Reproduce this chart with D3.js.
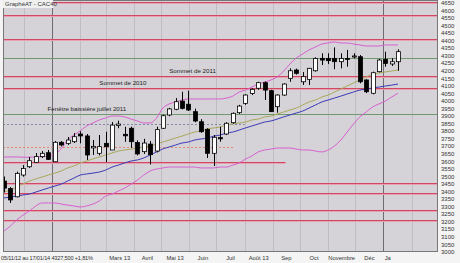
<!DOCTYPE html>
<html><head><meta charset="utf-8">
<script src="https://cdn.jsdelivr.net/npm/d3@7"></script>
<style>
html,body{margin:0;padding:0;background:#fff;overflow:hidden}
text{font-family:"Liberation Sans",Arial,sans-serif}
</style></head>
<body><svg id="c" width="460" height="263"></svg>
<script>
// ---- DATA ----
const firstWeek = "2012-11-09"; // weekly candles (Friday), 63 weeks
const open  = [3470,3420,3366,3510,3565,3594,3632,3658,3598,3727,3720,3731,3782,3769,3690,3654,3720,3676,3838,3780,3820,3725,3665,3715,3669,3820,3908,3946,4000,3979,3930,3863,3813,3654,3758,3782,3857,3923,3985,4050,4085,4122,4069,3963,4040,4151,4206,4128,4144,4201,4283,4283,4283,4261,4283,4295,4294,4140,4052,4195,4277,4246,4261];
const high  = [3500,3430,3532,3576,3630,3656,3669,3676,3735,3735,3762,3788,3800,3782,3742,3775,3797,3861,3870,3830,3830,3740,3750,3735,3830,3910,3955,4020,4062,4069,3950,3880,3820,3775,3830,3860,3925,3975,4045,4085,4128,4130,4075,4045,4118,4217,4215,4193,4220,4290,4317,4317,4356,4317,4339,4317,4305,4145,4195,4280,4327,4285,4343];
const low   = [3395,3325,3362,3499,3557,3590,3623,3610,3596,3700,3709,3722,3720,3610,3643,3640,3596,3676,3820,3730,3690,3640,3650,3580,3660,3815,3900,3940,3945,3935,3860,3790,3623,3570,3731,3775,3850,3915,3975,4040,4075,4007,3930,3923,4035,4128,4175,4107,4107,4195,4239,4245,4211,4217,4228,4283,4118,4053,4045,4190,4228,4233,4201];
const close = [3423,3345,3521,3554,3605,3632,3654,3614,3727,3709,3742,3764,3769,3643,3700,3698,3698,3841,3848,3770,3731,3650,3722,3645,3811,3903,3948,3996,3952,3941,3868,3797,3654,3760,3750,3853,3919,3967,4040,4078,4122,4073,3930,4040,4113,4201,4184,4162,4217,4283,4272,4268,4261,4283,4277,4299,4128,4062,4188,4272,4250,4261,4327.5];
const bbUpper = [3629,3630,3630,3628,3628,3630,3632,3635,3650,3683,3742,3775,3802,3835,3855,3875,3888,3901,3901,3895,3881,3868,3855,3855,3888,3954,3981,3994,4007,4014,4014,4014,4014,4014,4014,4020,4033,4060,4073,4093,4113,4126,4140,4160,4199,4246,4286,4312,4339,4358,4378,4385,4392,4385,4385,4378,4372,4365,4365,4365,4372,4372,4372];
const bbLower = [3139,3172,3212,3245,3272,3305,3325,3325,3325,3318,3311,3305,3298,3305,3318,3338,3371,3384,3404,3424,3450,3477,3510,3537,3550,3557,3563,3563,3563,3563,3563,3557,3557,3557,3563,3563,3576,3590,3616,3636,3663,3676,3682,3689,3689,3689,3682,3676,3676,3669,3663,3676,3702,3742,3795,3848,3895,3928,3961,3981,4000,4027,4053];
const ma20 = [3398,3411,3431,3450,3470,3484,3497,3510,3523,3537,3557,3570,3590,3603,3617,3629,3643,3656,3669,3676,3682,3689,3696,3702,3716,3729,3742,3755,3768,3782,3795,3802,3815,3822,3828,3842,3848,3855,3861,3875,3881,3895,3901,3914,3928,3941,3954,3974,3994,4007,4027,4040,4060,4080,4100,4120,4140,4160,4179,4186,4193,4199,4206];
const ma50 = [3358,3364,3371,3378,3384,3397,3411,3424,3437,3450,3470,3490,3510,3517,3523,3530,3543,3563,3576,3590,3603,3610,3623,3643,3663,3683,3696,3709,3722,3729,3742,3749,3755,3768,3775,3788,3795,3808,3822,3835,3848,3861,3868,3881,3895,3908,3921,3934,3954,3974,3994,4007,4020,4033,4047,4060,4073,4080,4087,4093,4100,4106,4113];
// horizontal levels
const levelValues = [4655,4570,4410,4285,4165,4085,3915,3850,3695,3595,3457,3391,3278,3212];
const levelKinds  = ["red","red","red","green","red","red","green","blue","orange","red","red","red","red","red"];
const levelEnds   = [null,null,null,null,null,null,null,"2013-08-01","2013-07-20","2013-09-15",null,null,null,null];
const annotTexts  = ["Sommet de 2011","Sommet de 2010","Fenêtre baissière juillet 2011"];
const annotValues = [4165,4085,3915];
const annotDates  = ["2013-05-10","2013-02-22","2012-12-27"];
const yTicks = d3.range(3000,4651,50);
const monthLabels = ["Mars 13","Avril","Mai 13","Juin","Juil","Août 13","Sep","Oct","Novembre","Déc","Ja"];
const monthStarts = ["2013-03-01","2013-04-01","2013-05-01","2013-06-01","2013-07-01","2013-08-01","2013-09-01","2013-10-01","2013-11-01","2013-12-01","2014-01-01"];
const footerText = "05/11/12 au 17/01/14  4327,500  +1,81%";
const titleText = "GraphéAT - CAC40";

// ---- CHART ----
const svg = d3.select("#c");
const W=460,H=263;
const P={l:3,r:438,t:0,b:252};
const parse = d3.timeParse("%Y-%m-%d");
const d0 = parse(firstWeek);
const weeks = d3.range(open.length).map(i=>d3.timeDay.offset(d0,7*i));
const x = d3.scaleTime().domain([weeks[0], weeks[weeks.length-1]]).range([4,398]);
const y = d3.scaleLinear().domain([3000,4650]).range([252,3]);

svg.append("rect").attr("width",W).attr("height",H).attr("fill","#f4f4f4");
svg.append("rect").attr("x",P.l).attr("y",P.t).attr("width",P.r-P.l).attr("height",P.b-P.t).attr("fill","#d5d2d8");

svg.append("clipPath").attr("id","pc").append("rect").attr("x",P.l).attr("y",P.t).attr("width",P.r-P.l).attr("height",P.b-P.t);
const g = svg.append("g").attr("clip-path","url(#pc)");

// month grid
const months = d3.timeMonth.range(d3.timeMonth.ceil(x.invert(P.l)), x.invert(P.r));
g.selectAll("line.m").data(months).join("line")
  .attr("x1",d=>Math.round(x(d))+0.5).attr("x2",d=>Math.round(x(d))+0.5)
  .attr("y1",P.t).attr("y2",P.b)
  .attr("stroke",d=>d.getMonth()===0?"#6c6c72":"#bfbcc4").attr("stroke-width",1);

// levels
const kc = {red:"#d24862",green:"#6f9a70",blue:"#8088a8",orange:"#e08870"};
levelValues.forEach((v,i)=>{
  const k=levelKinds[i];
  const x2 = levelEnds[i]? x(parse(levelEnds[i])) : P.r;
  const yy = Math.round(y(v))+0.5;
  if(k==="red"){
    g.append("line").attr("x1",P.l).attr("x2",x2).attr("y1",yy+0.5).attr("y2",yy+0.5).attr("stroke","#e6a2b2").attr("stroke-width",2);
  }
  g.append("line").attr("x1",P.l).attr("x2",x2).attr("y1",yy).attr("y2",yy)
    .attr("stroke",kc[k]).attr("stroke-width",1)
    .attr("stroke-dasharray",(k==="blue"||k==="orange")?"2,2":null);
});

// annotations
annotTexts.forEach((t,i)=>{
  g.append("text").attr("x",x(parse(annotDates[i]))).attr("y",y(annotValues[i])-3)
   .attr("font-size",6.2).attr("fill","#222").text(t);
});

// indicator lines
const line = arr => d3.line().x((d,i)=>x(weeks[i])).y(d=>y(d)).curve(d3.curveMonotoneX)(arr);
g.append("path").attr("d",line(bbUpper)).attr("fill","none").attr("stroke","#d860d0").attr("stroke-width",1);
g.append("path").attr("d",line(bbLower)).attr("fill","none").attr("stroke","#d860d0").attr("stroke-width",1);
g.append("path").attr("d",line(ma20)).attr("fill","none").attr("stroke","#a8a85a").attr("stroke-width",1);
g.append("path").attr("d",line(ma50)).attr("fill","none").attr("stroke","#3a3ab8").attr("stroke-width",1);

// candles
const bw = 4;
const cg = g.append("g");
weeks.forEach((d,i)=>{
  const cx = Math.round(x(d))+0.5;
  cg.append("line").attr("x1",cx).attr("x2",cx).attr("y1",y(high[i])).attr("y2",y(low[i])).attr("stroke","#000").attr("stroke-width",1);
  const up = close[i]>=open[i];
  const top = y(Math.max(open[i],close[i])), bot = y(Math.min(open[i],close[i]));
  cg.append("rect").attr("x",cx-bw/2).attr("y",top).attr("width",bw).attr("height",Math.max(1,bot-top))
    .attr("fill",up?"#fff":"#000").attr("stroke","#000").attr("stroke-width",0.8);
});

// frame
svg.append("rect").attr("x",P.l+0.5).attr("y",P.t+0.5).attr("width",P.r-P.l-1).attr("height",P.b-P.t-1)
  .attr("fill","none").attr("stroke","#777").attr("stroke-width",1);

// right axis
const ya = svg.append("g");
yTicks.forEach(v=>{
  ya.append("text").attr("x",441).attr("y",y(v)).attr("dy","0.35em").attr("font-size",6).attr("fill","#333").text(v);
});

// bottom labels
monthLabels.forEach((t,i)=>{
  const a = parse(monthStarts[i]);
  const b = d3.timeMonth.offset(a,1);
  let cx = (x(a)+Math.min(x(b),x(weeks[weeks.length-1])-6))/2;
  svg.append("text").attr("x",cx).attr("y",259.5).attr("text-anchor","middle").attr("font-size",5.8).attr("fill","#333").text(t);
});
svg.append("text").attr("x",1).attr("y",259.5).attr("font-size",5.6).attr("fill","#333").attr("textLength",92).text(footerText);

// title
svg.append("rect").attr("x",3).attr("y",0).attr("width",50).attr("height",8).attr("fill","#f0f0f0");
svg.append("text").attr("x",5).attr("y",6).attr("font-size",6).attr("fill","#333").text(titleText);
</script></body></html>
